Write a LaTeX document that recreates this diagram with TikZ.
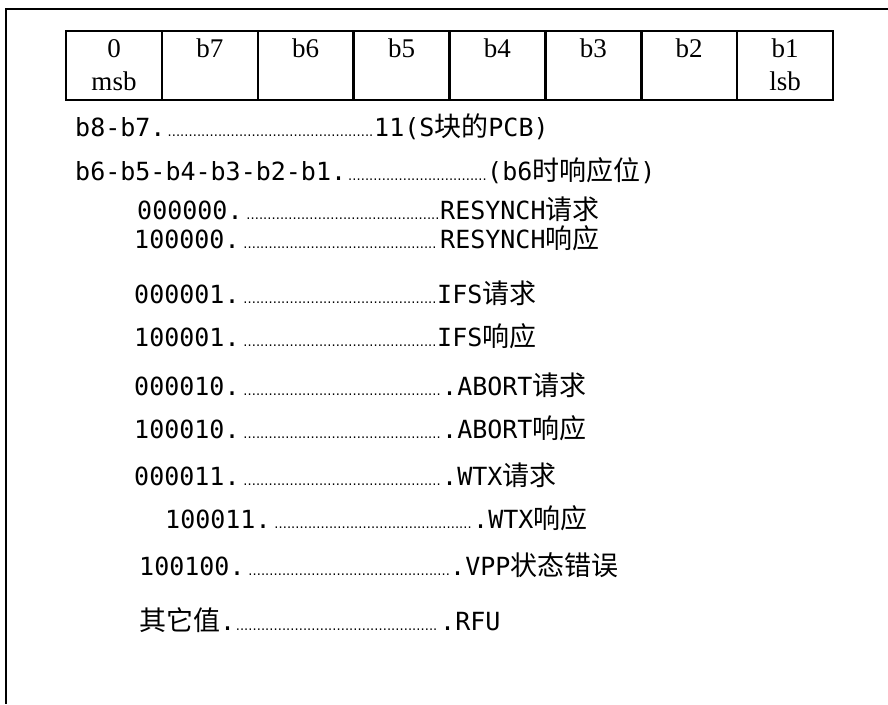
\documentclass[tikz,border=0pt]{standalone}
\usepackage{fontspec}
\setmainfont{Liberation Serif}
\newfontfamily\cjk{Noto Sans CJK SC}
\newfontfamily\mono{DejaVu Sans Mono}
\newcommand{\zh}[1]{\smash{\cjk\fontsize{27}{27}\selectfont #1}}
\newcommand{\lead}[2]{\makebox[#1][l]{#2\leaders\hbox to 4.2pt{\hss{\fontsize{11}{11}\selectfont.}\hss}\hskip 0pt plus 1filll\null}}
\tikzset{
  frame/.style={line width=2pt},
  tbl/.style={line width=2.5pt},
  cell/.style={anchor=base,inner sep=0pt,font=\fontsize{27}{27}\selectfont},
  entry/.style={anchor=base west,inner sep=0pt,font=\mono\fontsize{25}{25}\selectfont}
}
\begin{document}
\begin{tikzpicture}[x=1pt,y=-1pt]
  \useasboundingbox (0,0) rectangle (888,704);
  \draw [frame] (888,9) -- (6,9) -- (6,704);
  % byte layout
  \draw [tbl] (66,31) rectangle (833,100);
  \foreach \i in {1,...,7} \draw [tbl] ({66+\i*95.875},31) -- ({66+\i*95.875},100);
  \node [cell] (c0) at (114,57) {0};
  \node [cell] (msb) at (114,90) {msb};
  \foreach \t [count=\i] in {b7,b6,b5,b4,b3,b2,b1}
    \node [cell] (c\i) at ({66+\i*95.875+47.9},57) {\t};
  \node [cell] (lsb) at (785,90) {lsb};
  % coding of the bits
  \node [entry] (pcb) at (75,136) {\lead{299pt}{b8-b7.}11(S\zh{块的}PCB)};
  \node [entry] (bits) at (75,180) {\lead{412pt}{b6-b5-b4-b3-b2-b1.}(b6\zh{时响应位})};
  \node [entry] (rsq) at (137,219) {\lead{303pt}{000000.}RESYNCH\zh{请求}};
  \node [entry] (rsr) at (134,248) {\lead{306pt}{100000.}RESYNCH\zh{响应}};
  \node [entry] (ifq) at (134,303) {\lead{303pt}{000001.}IFS\zh{请求}};
  \node [entry] (ifr) at (134,346) {\lead{303pt}{100001.}IFS\zh{响应}};
  \node [entry] (abq) at (134,395) {\lead{308pt}{000010.}.ABORT\zh{请求}};
  \node [entry] (abr) at (134,438) {\lead{308pt}{100010.}.ABORT\zh{响应}};
  \node [entry] (wtq) at (134,485) {\lead{308pt}{000011.}.WTX\zh{请求}};
  \node [entry] (wtr) at (165,528) {\lead{308pt}{100011.}.WTX\zh{响应}};
  \node [entry] (vpp) at (139,575) {\lead{311pt}{100100.}.VPP\zh{状态错误}};
  \node [entry] (rfu) at (139,630) {\lead{301pt}{\zh{其它值}.}.RFU};
\end{tikzpicture}
\end{document}
